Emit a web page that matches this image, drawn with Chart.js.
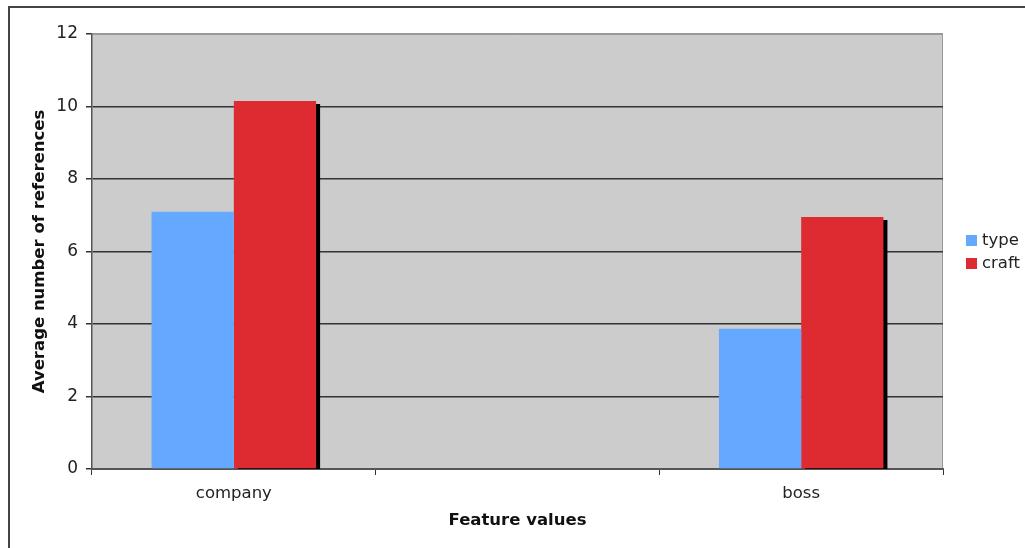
<!DOCTYPE html>
<html>
<head>
<meta charset="utf-8">
<script src="https://cdn.jsdelivr.net/npm/chart.js@4/dist/chart.umd.min.js"></script>
<style>
  html, body { margin: 0; padding: 0; background: #fff; }
  #wrap { width: 1025px; height: 548px; position: relative; }
</style>
</head>
<body>
<div id="wrap"><canvas id="refChart"></canvas></div>
<script>
'use strict';

// Valeurs du graphique
const categories = ['company', '', 'boss'];
const seriesNames = ['type', 'craft'];
const typeValues = [7.1, null, 3.87];
const craftValues = [10.15, null, 6.95];
const yTicks = [0, 2, 4, 6, 8, 10, 12];

const FONT = 'DejaVu Sans, Verdana, sans-serif';
const BLEU = '#64a9ff';
const ROUGE = '#de2b32';

// Fond gris de la zone de tracé + cadre extérieur
const fondPlugin = {
    id: 'fond',
    beforeDraw(chart) {
        const { ctx, chartArea: a } = chart;
        ctx.save();
        ctx.fillStyle = '#cccccc';
        ctx.fillRect(a.left, a.top, a.right - a.left, a.bottom - a.top);
        ctx.strokeStyle = '#999999';
        ctx.lineWidth = 1;
        ctx.beginPath();
        ctx.moveTo(a.left, a.top + 0.5);
        ctx.lineTo(a.right - 0.5, a.top + 0.5);
        ctx.lineTo(a.right - 0.5, a.bottom);
        ctx.stroke();
        // cadre de l'image
        ctx.strokeStyle = '#444444';
        ctx.lineWidth = 2;
        ctx.beginPath();
        ctx.moveTo(9, 548);
        ctx.lineTo(9, 7);
        ctx.lineTo(1025, 7);
        ctx.stroke();
        ctx.restore();
    },
};

// Ombre noire à droite des barres rouges (les datasets sont dessinés en ordre inverse)
const ombrePlugin = {
    id: 'ombre',
    beforeDatasetDraw(chart, args) {
        const ctx = chart.ctx;
        ctx.save();
        if (args.index === 1) {
            ctx.shadowColor = '#000000';
            ctx.shadowOffsetX = 4;
            ctx.shadowOffsetY = 3;
            ctx.shadowBlur = 0;
        }
    },
    afterDatasetDraw(chart) {
        chart.ctx.restore();
    },
};

// Légende à droite
const legendePlugin = {
    id: 'legende',
    afterDraw(chart) {
        const ctx = chart.ctx;
        ctx.save();
        ctx.font = '16.5px ' + FONT;
        ctx.textBaseline = 'middle';
        chart.data.datasets.forEach((ds, i) => {
            const y = 241 + i * 23;
            ctx.fillStyle = ds.backgroundColor;
            ctx.fillRect(966, y - 6, 11, 11);
            ctx.fillStyle = '#222222';
            ctx.fillText(ds.label, 982, y);
        });
        ctx.restore();
    },
};

const ctx = document.getElementById('refChart').getContext('2d');
new Chart(ctx, {
    type: 'bar',
    data: {
        labels: categories,
        datasets: [
            {
                label: seriesNames[0],
                data: typeValues,
                backgroundColor: BLEU,
                borderWidth: 0,
            },
            {
                label: seriesNames[1],
                data: craftValues,
                backgroundColor: ROUGE,
                borderWidth: 0,
            },
        ],
    },
    options: {
        responsive: true,
        maintainAspectRatio: false,
        animation: false,
        layout: {
            padding: { left: 8, top: 34, right: 82, bottom: 0 },
        },
        datasets: {
            bar: {
                categoryPercentage: 0.58,
                barPercentage: 1.0,
            },
        },
        plugins: {
            legend: { display: false },
            tooltip: { enabled: false },
        },
        scales: {
            x: {
                grid: {
                    offset: true,
                    drawOnChartArea: false,
                    drawTicks: true,
                    tickLength: 6,
                    tickColor: '#333333',
                },
                border: { color: '#555555', width: 2 },
                ticks: {
                    color: '#222222',
                    font: { family: FONT, size: 16.5 },
                    padding: 9,
                    maxRotation: 0,
                },
                title: {
                    display: true,
                    text: 'Feature values',
                    color: '#111111',
                    font: { family: FONT, size: 16.5, weight: 'bold' },
                    padding: { top: 0, bottom: 17 },
                },
                afterFit(scale) {
                    scale.height = 79;
                },
            },
            y: {
                min: 0,
                max: 12,
                afterBuildTicks(scale) {
                    scale.ticks = yTicks.map((v) => ({ value: v }));
                },
                grid: {
                    color: (c) => (c.tick && c.tick.value === 12 ? '#999999' : '#333333'),
                    lineWidth: 1.5,
                    tickLength: 6,
                    tickColor: '#333333',
                },
                border: { color: '#555555', width: 1.5 },
                ticks: {
                    color: '#222222',
                    font: { family: FONT, size: 17 },
                    padding: 8,
                },
                title: {
                    display: true,
                    text: 'Average number of references',
                    color: '#111111',
                    font: { family: FONT, size: 16.5, weight: 'bold' },
                    padding: { top: 22, bottom: 0 },
                },
                afterFit(scale) {
                    scale.width = 84;
                },
            },
        },
    },
    plugins: [fondPlugin, ombrePlugin, legendePlugin],
});
</script>
</body>
</html>
